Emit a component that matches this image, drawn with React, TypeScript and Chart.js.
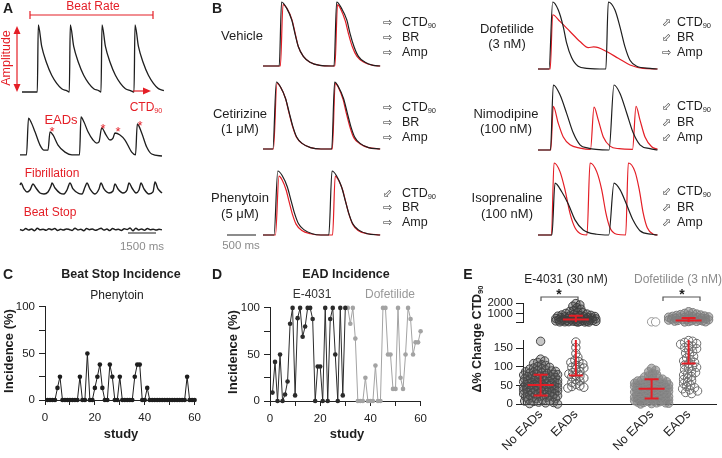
import React, { useEffect, useRef } from "react";
import { Chart, registerables } from "chart.js";
Chart.register(...registerables);

const FONT = "'Liberation Sans', Arial, Helvetica, sans-serif";
const RED = "#e41e26";
const INK = "#1e1e1e";
const GRAY = "#8c8c8c";
Chart.defaults.font.family = FONT;

// ---------- Panel A traces (time ms, normalised amplitude %) ----------
const aRegT = [0, 851, 906, 1096, 1374, 1651, 1930, 2208, 2486, 2630, 2685, 2875, 3153, 3430, 3709, 3987, 4265, 4393, 4448, 4638, 4916, 5193, 5472, 5750, 6028, 6228, 6283, 6473, 6751, 7028, 7307, 7585, 7890];
const aRegV = [0, 0, 100, 68, 43, 25, 13, 5, 2, 0, 100, 68, 43, 25, 13, 5, 2, 0, 100, 68, 43, 25, 13, 5, 2, 0, 100, 68, 43, 25, 13, 5, 2];
const aEadT = [0, 361, 473, 612, 834, 1112, 1334, 1557, 1668, 1835, 2113, 2502, 2891, 3308, 3392, 3558, 3781, 4059, 4265, 4392, 4542, 4782, 5004, 5171, 5282, 5560, 5838, 6210, 6422, 6522, 6766, 7044, 7322, 7895];
const aEadV = [3, 3, 97, 87, 62, 28, 15, 15, 62, 54, 28, 10, 3, 3, 100, 87, 62, 41, 33, 36, 72, 54, 41, 46, 59, 54, 41, 10, 3, 82, 59, 23, 5, 0];
const aFibT = [0, 56, 222, 389, 556, 723, 890, 1112, 1334, 1557, 1724, 1779, 1946, 2224, 2446, 2613, 2780, 2947, 3225, 3447, 3614, 3725, 3892, 4170, 4392, 4504, 4670, 4948, 5171, 5282, 5449, 5727, 5949, 6060, 6227, 6450, 6616, 6728, 6894, 7172, 7395, 7506, 7673, 7895];
const aFibV = [75, 92, 42, 17, 33, 83, 50, 8, 0, 17, 67, 92, 50, 8, 0, 33, 92, 42, 8, 0, 58, 92, 42, 0, 42, 92, 42, 8, 25, 83, 42, 8, 33, 92, 50, 8, 33, 92, 42, 0, 17, 100, 42, 8];
const aStopStepMs = 161;
const aStopV = [50, 20, 80, 35, 65, 10, 90, 40, 55, 25, 75, 45, 85, 15, 60, 30, 70, 50, 20, 95, 35, 60, 10, 80, 45, 70, 25, 55, 90, 30, 65, 15, 85, 40, 60, 20, 75, 50, 100, 5, 90, 35, 70, 25, 80, 45, 60, 30, 55, 40];

// ---------- Panel B traces (ms, %) ----------
const vehBlkT = [0, 280, 320, 410, 495, 550, 610, 695, 810, 980, 1180, 1225, 1270, 1355, 1445, 1500, 1570, 1645, 1760, 1900, 2020];
const vehBlkV = [0, 0, 100, 90, 72, 51, 30, 15, 6, 1, 0, 0, 100, 90, 72, 51, 30, 15, 6, 1, 0];
const vehRedT = [0, 300, 345, 420, 500, 555, 610, 695, 810, 980, 1180, 1240, 1285, 1345, 1420, 1475, 1540, 1620, 1740, 1900, 2020];
const vehRedV = [0, 0, 96, 89, 72, 51, 30, 15, 6, 1, 0, 0, 96, 88, 70, 50, 30, 15, 6, 1, 0];
const cetBlkT = [0, 170, 230, 300, 390, 450, 510, 580, 680, 820, 1000, 1185, 1235, 1300, 1390, 1450, 1510, 1580, 1680, 1820, 2020];
const cetBlkV = [0, 0, 100, 93, 75, 55, 35, 18, 8, 2, 0, 0, 100, 93, 75, 55, 35, 18, 8, 2, 0];
const cetRedT = [0, 180, 240, 305, 390, 445, 505, 575, 680, 820, 1000, 1195, 1245, 1300, 1380, 1435, 1495, 1565, 1670, 1820, 2020];
const cetRedV = [0, 0, 98, 92, 75, 55, 35, 18, 8, 2, 0, 0, 98, 92, 74, 54, 34, 17, 8, 2, 0];
const phnBlkT = [0, 190, 255, 330, 420, 480, 540, 610, 710, 850, 1000, 1135, 1190, 1265, 1355, 1415, 1475, 1545, 1645, 1800, 2020];
const phnBlkV = [0, 0, 100, 93, 75, 55, 35, 18, 8, 2, 0, 0, 100, 93, 75, 55, 35, 18, 8, 2, 0];
const phnRedT = [0, 215, 275, 330, 400, 450, 505, 570, 670, 820, 1000, 1200, 1245, 1300, 1375, 1425, 1480, 1545, 1640, 1800, 2020];
const phnRedV = [0, 0, 92, 86, 70, 52, 33, 17, 7, 2, 0, 0, 92, 86, 70, 52, 33, 17, 7, 2, 0];
const dofBlkT = [0, 190, 253, 350, 436, 493, 579, 693, 838, 1170, 1212, 1327, 1413, 1500, 1586, 1702, 1931, 2060];
const dofBlkV = [0, 0, 100, 88, 63, 39, 17, 4, 1, 0, 100, 88, 63, 33, 13, 4, 1, 0];
const dofRedT = [0, 210, 253, 379, 552, 724, 867, 960, 1040, 1184, 1384, 1586, 1810, 2060];
const dofRedV = [0, 0, 81, 71, 56, 41, 32, 33, 32, 26, 16, 6, 1, 0];
const nimBlkT = [0, 215, 264, 379, 495, 609, 724, 867, 1000, 1225, 1310, 1414, 1529, 1643, 1758, 1931, 2060];
const nimBlkV = [0, 0, 100, 85, 56, 26, 8, 3, 1, 0, 100, 87, 57, 26, 8, 2, 0];
const nimRedT = [0, 220, 264, 350, 436, 552, 724, 905, 966, 1040, 1126, 1241, 1400, 1630, 1690, 1759, 1845, 1960, 2060];
const nimRedV = [0, 0, 67, 41, 20, 8, 3, 1, 66, 46, 20, 6, 2, 1, 67, 46, 20, 5, 1];
const isoRedT = [0, 232, 276, 379, 465, 552, 638, 753, 845, 897, 1012, 1098, 1172, 1241, 1357, 1512, 1557, 1672, 1746, 1815, 1884, 1988, 2060];
const isoRedV = [0, 0, 100, 88, 63, 30, 10, 1, 0, 100, 88, 63, 30, 10, 1, 0, 100, 88, 63, 30, 10, 1, 0];
const isoBlkT = [0, 240, 293, 409, 522, 638, 781, 1012, 1220, 1310, 1414, 1529, 1643, 1758, 1960, 2060];
const isoBlkV = [0, 0, 72, 60, 43, 21, 7, 1, 0, 72, 63, 42, 20, 6, 1, 0];

// ---------- Panel C: beat stop incidence, phenytoin (studies 1..60) ----------
const cPhenytoin = [0, 0, 0, 0, 13, 25, 0, 0, 0, 0, 0, 0, 0, 25, 0, 0, 50, 0, 0, 13, 25, 38, 13, 0, 0, 38, 25, 0, 0, 25, 0, 0, 0, 0, 0, 25, 38, 38, 0, 0, 13, 0, 0, 0, 0, 0, 0, 0, 0, 0, 0, 0, 0, 0, 0, 0, 25, 0, 0, 0];

// ---------- Panel D: EAD incidence ----------
const dE4031Start = 1;
const dE4031 = [9, 42, 0, 50, 0, 7, 21, 83, 100, 6, 89, 100, 69, 80, 100, 100, 88, 0, 37, 37, 0, 100, 0, 88, 100, 50, 0, 100, 6, 100];
const dDofStart = 31;
const dDofetilide = [100, 83, 100, 67, 0, 0, 0, 25, 0, 0, 0, 38, 0, 0, 100, 100, 50, 50, 13, 13, 100, 25, 13, 50, 100, 88, 50, 63, 63, 75, 0];

// ---------- Panel E: delta % change CTD90 ----------
const eLabels = ["No EADs", "EADs", "No EADs", "EADs"];
const ePos = [1, 2, 4.15, 5.2];
const eMeans = [51, 440, 41, 345];
const eSds = [28, 363, 26, 236];
const eE4031NoLow = [169, 121, 116, 112, 109, 106, 104, 101, 99, 97, 95, 94, 92, 90, 89, 88, 87, 86, 84, 83, 82, 81, 80, 79, 78, 77, 76, 75, 74, 73, 72, 71, 70, 69, 68, 67, 66, 65, 64, 63, 63, 62, 61, 60, 59, 58, 58, 57, 56, 55, 55, 54, 53, 52, 52, 51, 50, 49, 48, 48, 47, 46, 45, 44, 44, 43, 42, 41, 41, 40, 39, 38, 38, 37, 36, 35, 34, 33, 32, 31, 30, 29, 28, 27, 26, 25, 24, 23, 22, 21, 20, 19, 18, 17, 15, 14, 13, 11, 9, 8, 7, 5, 4, 3, 1, 0];
const eE4031EadLow = [167, 152, 136, 126, 118, 114, 112, 108, 104, 100, 99, 97, 93, 88, 85, 81, 77, 75, 73, 70, 65, 62, 58, 53, 49, 47, 45, 43];
const eE4031EadHigh = [1950, 1820, 1700, 1560, 1420, 1300, 1210, 1140, 1080, 1020, 960, 910, 870, 840, 810, 780, 760, 730, 710, 690, 660, 640, 620, 600, 585, 560, 540, 520, 505, 490, 470, 450, 430, 415, 400, 385, 370, 355, 340, 325, 310, 295, 280, 270, 260, 250, 240, 230, 222, 215, 208, 202];
const eDofNoLow = [96, 91, 87, 83, 79, 76, 73, 71, 69, 67, 65, 64, 62, 61, 60, 59, 58, 57, 56, 55, 54, 53, 52, 52, 51, 50, 49, 48, 47, 47, 46, 45, 44, 43, 43, 42, 41, 40, 39, 38, 38, 37, 36, 35, 34, 34, 33, 32, 31, 30, 30, 29, 28, 27, 27, 26, 25, 24, 23, 22, 21, 21, 20, 19, 18, 18, 17, 16, 15, 14, 13, 12, 12, 11, 10, 9, 9, 8, 7, 6, 5, 4, 3, 3, 2, 1, 0];
const eDofNoHigh = [228, 215];
const eDofEadLow = [171, 169, 166, 163, 161, 158, 156, 152, 149, 145, 141, 137, 133, 128, 124, 119, 116, 112, 108, 105, 102, 99, 96, 92, 88, 85, 81, 78, 74, 70, 66, 63, 59, 55, 51, 47, 44, 41, 38, 35, 31, 28];
const eDofEadHigh = [1180, 1090, 1020, 960, 910, 870, 830, 800, 770, 740, 710, 690, 660, 640, 610, 590, 570, 550, 530, 510, 490, 470, 450, 430, 410, 390, 370, 350, 330, 310, 290, 270, 250, 230, 215];

// ---------- helpers ----------
type Series = { t: number[]; v: number[]; color: string; w?: number };

function ChartBox(props: { left: number; top: number; width: number; height: number; make: () => any; after?: (c: any) => void }) {
  const { left, top, width, height, make, after } = props;
  const ref = useRef<HTMLCanvasElement>(null);
  useEffect(() => {
    const chart = new Chart(ref.current as HTMLCanvasElement, make());
    if (after) after(chart);
    return () => chart.destroy();
  }, []);
  return <canvas ref={ref} width={width} height={height} style={{ position: "absolute", left, top, width, height }} />;
}

function traceConfig(series: Series[], tMax: number, pad: number) {
  return {
    type: "line",
    data: {
      datasets: series.map((s) => ({
        data: s.t.map((t, i) => ({ x: t, y: s.v[i] })),
        borderColor: s.color,
        borderWidth: s.w ?? 1.2,
        pointRadius: 0,
        cubicInterpolationMode: "monotone",
        fill: false,
        clip: false,
      })),
    },
    options: {
      animation: false,
      responsive: false,
      events: [],
      layout: { padding: pad },
      plugins: { legend: { display: false }, tooltip: { enabled: false } },
      scales: {
        x: { type: "linear", display: false, min: 0, max: tMax },
        y: { type: "linear", display: false, min: 0, max: 100 },
      },
    },
  };
}

function Trace(p: { left: number; top: number; width: number; height: number; tMax: number; series: Series[] }) {
  const pad = 3;
  return <ChartBox left={p.left - pad} top={p.top - pad} width={p.width + 2 * pad} height={p.height + 2 * pad} make={() => traceConfig(p.series, p.tMax, pad)} />;
}

function Txt(p: { x: number; y: number; children: any; size?: number; color?: string; bold?: boolean; anchor?: "start" | "middle" | "end"; rotate?: number; family?: string }) {
  const tx = p.anchor === "start" ? "0" : p.anchor === "end" ? "-100%" : "-50%";
  return (
    <div
      style={{
        position: "absolute",
        left: p.x,
        top: p.y,
        transform: `translate(${tx}, -50%)` + (p.rotate ? ` rotate(${p.rotate}deg)` : ""),
        fontFamily: p.family ?? FONT,
        fontSize: p.size ?? 12,
        fontWeight: p.bold ? "bold" : "normal",
        color: p.color ?? INK,
        whiteSpace: "nowrap",
        lineHeight: 1,
      }}
    >
      {p.children}
    </div>
  );
}

const Ctd = () => (
  <>
    CTD<span style={{ fontSize: "0.6em", position: "relative", top: "0.3em" }}>90</span>
  </>
);

const GLYPH: Record<string, string> = { r: "\u21E8", u: "\u2B00", d: "\u2B03" };

function ArrowRows(p: { gx: number; tx: number; ys: number[]; dirs: string[] }) {
  const labels = [<Ctd />, "BR", "Amp"];
  return (
    <>
      {p.ys.map((y, i) => (
        <React.Fragment key={i}>
          <Txt x={p.gx} y={y} anchor="start" size={11} color="#333" family="'DejaVu Sans', sans-serif">
            {GLYPH[p.dirs[i]]}
          </Txt>
          <Txt x={p.tx} y={y} anchor="start" size={12.5}>
            {labels[i]}
          </Txt>
        </React.Fragment>
      ))}
    </>
  );
}

function incidenceConfig(datasets: any[]) {
  const tickFont = { family: FONT, size: 11.5 };
  return {
    type: "line",
    data: { datasets },
    options: {
      animation: false,
      responsive: false,
      events: [],
      layout: { padding: { top: 10, right: 10, left: 0, bottom: 0 } },
      plugins: { legend: { display: false }, tooltip: { enabled: false } },
      scales: {
        x: {
          type: "linear",
          min: 0,
          max: 60,
          afterFit: (s: any) => { s.height = 26; },
          ticks: { stepSize: 10, callback: (v: number) => (v % 20 === 0 ? String(v) : ""), font: tickFont, color: "#222", padding: 6, maxRotation: 0, autoSkip: false },
          grid: { drawOnChartArea: false, tickLength: 5, color: "#222" },
          border: { color: "#222", width: 1 },
        },
        y: {
          type: "linear",
          min: 0,
          max: 100,
          afterFit: (s: any) => { s.width = 45; },
          ticks: { stepSize: 25, callback: (v: number) => (v % 50 === 0 ? String(v) : ""), font: tickFont, color: "#222", padding: 4 },
          grid: { drawOnChartArea: false, tickLength: 6, color: "#222" },
          border: { color: "#222", width: 1 },
        },
      },
    },
  };
}

function lineSeries(values: number[], start: number, color: string) {
  return {
    data: values.map((v, i) => ({ x: start + i, y: v })),
    borderColor: color,
    backgroundColor: color,
    borderWidth: 1,
    pointRadius: 2.3,
    pointBorderWidth: 0,
    pointBackgroundColor: color,
    tension: 0,
    clip: false,
  };
}

const meanSdPlugin = {
  id: "meanSd",
  afterDatasetsDraw(chart: any) {
    const { ctx, chartArea: a, scales } = chart;
    const x = scales.x, y = scales.y;
    ctx.save();
    ctx.beginPath();
    ctx.rect(a.left - 40, a.top - 1, a.right - a.left + 80, a.bottom - a.top + 1);
    ctx.clip();
    ctx.strokeStyle = RED;
    ctx.lineWidth = 2;
    const seg = (x1: number, y1: number, x2: number, y2: number) => {
      ctx.beginPath();
      ctx.moveTo(x1, y1);
      ctx.lineTo(x2, y2);
      ctx.stroke();
    };
    const inside = (py: number) => py >= a.top - 1 && py <= a.bottom;
    ePos.forEach((p, i) => {
      const cx = x.getPixelForValue(p);
      const m = y.getPixelForValue(eMeans[i]);
      const lo = y.getPixelForValue(eMeans[i] - eSds[i]);
      const hi = y.getPixelForValue(eMeans[i] + eSds[i]);
      if (Math.min(lo, hi) <= a.bottom && Math.max(lo, hi) >= a.top) seg(cx, lo, cx, hi);
      if (inside(m)) seg(cx - 13, m, cx + 13, m);
      if (inside(lo)) seg(cx - 7, lo, cx + 7, lo);
      if (inside(hi)) seg(cx - 7, hi, cx + 7, hi);
    });
    ctx.restore();
  },
};

const eStylesLow = [
  { border: "#454545", fill: "rgba(95,95,95,0.35)" },
  { border: "#5a5a5a", fill: "rgba(255,255,255,0)" },
  { border: "#8a8a8a", fill: "rgba(128,128,128,0.55)" },
  { border: "#6e6e6e", fill: "rgba(255,255,255,0)" },
];
const eStylesHigh = [
  { border: "#454545", fill: "rgba(95,95,95,0.35)" },
  { border: "#3c3c3c", fill: "rgba(70,70,70,0.35)" },
  { border: "#9a9a9a", fill: "rgba(255,255,255,1)" },
  { border: "#7c7c7c", fill: "rgba(128,128,128,0.5)" },
];

function eConfig(low: boolean) {
  const groups = low ? [eE4031NoLow, eE4031EadLow, eDofNoLow, eDofEadLow] : [[], eE4031EadHigh, eDofNoHigh, eDofEadHigh];
  const styles = low ? eStylesLow : eStylesHigh;
  const tickFont = { family: FONT, size: 11.5 };
  const xScale: any = {
    type: "linear",
    min: 0.5,
    max: 6,
    display: low,
    afterBuildTicks: (s: any) => { s.ticks = ePos.map((v) => ({ value: v })); },
    ticks: { callback: (_v: number, i: number) => eLabels[i], minRotation: 45, maxRotation: 45, autoSkip: false, padding: 3, font: { family: FONT, size: 12.5 }, color: "#222" },
    grid: { drawOnChartArea: false, drawTicks: false, color: "#222" },
    border: { display: true, color: "#222", width: 1 },
  };
  if (low) xScale.afterFit = (s: any) => { s.height = 54; };
  return {
    type: "scatter",
    data: {
      datasets: groups.map((vals, i) => ({
        data: vals.map((v) => ({ x: ePos[i], y: v })),
        pointRadius: 4.2,
        pointBorderWidth: 1,
        pointBorderColor: styles[i].border,
        pointBackgroundColor: styles[i].fill,
        showLine: false,
        clip: false,
      })),
    },
    plugins: [meanSdPlugin],
    options: {
      animation: false,
      responsive: false,
      events: [],
      layout: { padding: low ? { top: 7, right: 0, left: 0, bottom: 0 } : { top: 20, right: 0, left: 0, bottom: 8 } },
      plugins: { legend: { display: false }, tooltip: { enabled: false } },
      scales: {
        x: xScale,
        y: {
          type: "linear",
          min: low ? 0 : 200,
          max: low ? 170 : 2000,
          afterBuildTicks: (s: any) => { s.ticks = (low ? [0, 50, 100, 150] : [200, 1000, 2000]).map((v) => ({ value: v })); },
          afterFit: (s: any) => { s.width = 43; },
          ticks: { callback: (v: number) => (!low && v === 200 ? "" : String(v)), padding: 3, font: tickFont, color: "#222", autoSkip: false },
          grid: { drawOnChartArea: false, tickLength: 7, color: "#222" },
          border: { color: "#222", width: 1 },
        },
      },
    },
  };
}

function swarm(dMin: number, maxW: number) {
  return (chart: any) => {
    const xs = chart.scales.x, ys = chart.scales.y;
    const unit = xs.getPixelForValue(1) - xs.getPixelForValue(0);
    chart.data.datasets.forEach((ds: any) => {
      const placed: [number, number][] = [];
      ds.data.forEach((pt: any) => {
        const base = pt.x;
        const py = ys.getPixelForValue(pt.y);
        let bestDx = 0, bestD = -1;
        for (let k = 0; k <= maxW * 2; k++) {
          const dx = k === 0 ? 0 : (k % 2 ? 1 : -1) * Math.ceil(k / 2);
          let dmin = Infinity;
          for (const [qx, qy] of placed) {
            const dd = Math.hypot(dx - qx, py - qy);
            if (dd < dmin) dmin = dd;
          }
          if (dmin >= dMin) { bestDx = dx; break; }
          if (dmin > bestD) { bestD = dmin; bestDx = dx; }
        }
        placed.push([bestDx, py]);
        pt.x = base + bestDx / unit;
      });
    });
    chart.update("none");
  };
}

export default function App() {
  const A_T = 7895;
  const B_T = 2069;
  return (
    <div style={{ position: "fixed", left: 0, top: 0, width: 722, height: 458, background: "#fff", overflow: "hidden" }}>
      {/* ----- Panel A ----- */}
      <Trace left={22} top={25} width={142} height={67} tMax={A_T} series={[{ t: aRegT, v: aRegV, color: INK, w: 1.3 }]} />
      <Trace left={20} top={117} width={142} height={39} tMax={A_T} series={[{ t: aEadT, v: aEadV, color: INK, w: 1.3 }]} />
      <Trace left={20} top={182} width={142} height={12} tMax={A_T} series={[{ t: aFibT, v: aFibV, color: INK, w: 1.4 }]} />
      <Trace left={20} top={228} width={142} height={3} tMax={A_T} series={[{ t: aStopV.map((_, i) => i * aStopStepMs), v: aStopV, color: INK, w: 1.5 }]} />

      {/* ----- Panel B ----- */}
      <Trace left={263} top={2} width={120} height={64} tMax={B_T} series={[{ t: vehBlkT, v: vehBlkV, color: INK }, { t: vehRedT, v: vehRedV, color: RED }]} />
      <Trace left={263} top={82} width={120} height={67} tMax={B_T} series={[{ t: cetBlkT, v: cetBlkV, color: INK }, { t: cetRedT, v: cetRedV, color: RED }]} />
      <Trace left={263} top={171} width={120} height={64} tMax={B_T} series={[{ t: phnBlkT, v: phnBlkV, color: INK }, { t: phnRedT, v: phnRedV, color: RED }]} />
      <Trace left={538} top={2} width={120} height={67} tMax={B_T} series={[{ t: dofBlkT, v: dofBlkV, color: INK }, { t: dofRedT, v: dofRedV, color: RED }]} />
      <Trace left={538} top={85} width={120} height={65} tMax={B_T} series={[{ t: nimBlkT, v: nimBlkV, color: INK }, { t: nimRedT, v: nimRedV, color: RED }]} />
      <Trace left={538} top={163} width={120} height={72} tMax={B_T} series={[{ t: isoBlkT, v: isoBlkV, color: INK }, { t: isoRedT, v: isoRedV, color: RED }]} />

      {/* ----- Panel C ----- */}
      <ChartBox left={0} top={296} width={207} height={130} make={() => incidenceConfig([lineSeries(cPhenytoin, 1, "#1e1e1e")])} />
      {/* ----- Panel D ----- */}
      <ChartBox left={225} top={297} width={208} height={130} make={() => incidenceConfig([lineSeries(dE4031, dE4031Start, "#2b2b2b"), lineSeries(dDofetilide, dDofStart, "#a3a3a3")])} />
      {/* ----- Panel E ----- */}
      <ChartBox left={480} top={283} width={242} height={49} make={() => eConfig(false)} after={swarm(4, 20)} />
      <ChartBox left={480} top={331} width={242} height={127} make={() => eConfig(true)} after={swarm(4, 17)} />

      {/* ----- decorations ----- */}
      <svg width={722} height={458} style={{ position: "absolute", left: 0, top: 0, pointerEvents: "none" }}>
        <g stroke={RED} strokeWidth={1.2} fill="none">
          <path d="M30,11 V19 M30,15 H153 M153,11 V19" />
          <path d="M17,32 V86" />
          <path d="M133,91 H144" />
        </g>
        <g fill={RED}>
          <path d="M17,26 L13.5,34 L20.5,34 Z" />
          <path d="M17,92 L13.5,84 L20.5,84 Z" />
          <path d="M151,91 L143,87.5 L143,94.5 Z" />
        </g>
        <path d="M128,233 H156" stroke={GRAY} strokeWidth={2} />
        <path d="M227,235 H256" stroke={GRAY} strokeWidth={2} />
        <g stroke="#555" strokeWidth={1.2} fill="none">
          <path d="M541,301 V297 H578 V301" />
          <path d="M663,301 V297 H700 V301" />
        </g>
      </svg>

      {/* ----- texts A ----- */}
      <Txt x={8} y={8} size={14} bold>A</Txt>
      <Txt x={93} y={6} color={RED}>Beat Rate</Txt>
      <Txt x={6} y={58} color={RED} size={12.5} rotate={-90}>Amplitude</Txt>
      <Txt x={146} y={107} color={RED}><Ctd /></Txt>
      <Txt x={61} y={119} color={RED} size={13}>EADs</Txt>
      <Txt x={52} y={131} color={RED} size={13}>*</Txt>
      <Txt x={103} y={128} color={RED} size={13}>*</Txt>
      <Txt x={118} y={131} color={RED} size={13}>*</Txt>
      <Txt x={140} y={125} color={RED} size={13}>*</Txt>
      <Txt x={52} y={173} color={RED}>Fibrillation</Txt>
      <Txt x={50} y={212} color={RED}>Beat Stop</Txt>
      <Txt x={142} y={247} color={GRAY} size={11.5}>1500 ms</Txt>

      {/* ----- texts B ----- */}
      <Txt x={217} y={8} size={14} bold>B</Txt>
      <Txt x={242} y={35} size={13}>Vehicle</Txt>
      <Txt x={240} y={113} size={13}>Cetirizine</Txt>
      <Txt x={240} y={128} size={13}>(1 μM)</Txt>
      <Txt x={240} y={197} size={13}>Phenytoin</Txt>
      <Txt x={240} y={213} size={13}>(5 μM)</Txt>
      <Txt x={241} y={246} color={GRAY} size={11.5}>500 ms</Txt>
      <Txt x={507} y={28} size={13}>Dofetilide</Txt>
      <Txt x={507} y={43} size={13}>(3 nM)</Txt>
      <Txt x={506} y={113} size={13}>Nimodipine</Txt>
      <Txt x={506} y={128} size={13}>(100 nM)</Txt>
      <Txt x={507} y={197} size={13}>Isoprenaline</Txt>
      <Txt x={507} y={213} size={13}>(100 nM)</Txt>
      <ArrowRows gx={383} tx={402} ys={[22, 37, 52]} dirs={["r", "r", "r"]} />
      <ArrowRows gx={383} tx={402} ys={[107, 122, 137]} dirs={["r", "r", "r"]} />
      <ArrowRows gx={383} tx={402} ys={[193, 207, 222]} dirs={["d", "r", "r"]} />
      <ArrowRows gx={662} tx={677} ys={[22, 37, 52]} dirs={["u", "d", "r"]} />
      <ArrowRows gx={662} tx={677} ys={[106, 122, 137]} dirs={["d", "u", "d"]} />
      <ArrowRows gx={662} tx={677} ys={[191, 207, 222]} dirs={["d", "u", "u"]} />

      {/* ----- texts C ----- */}
      <Txt x={8} y={274} size={14} bold>C</Txt>
      <Txt x={121} y={274} size={12.5} bold>Beat Stop Incidence</Txt>
      <Txt x={117} y={295}>Phenytoin</Txt>
      <Txt x={8} y={351} size={13} bold rotate={-90}>Incidence (%)</Txt>
      <Txt x={121} y={433} size={13} bold>study</Txt>

      {/* ----- texts D ----- */}
      <Txt x={217} y={274} size={14} bold>D</Txt>
      <Txt x={346} y={274} size={12.5} bold>EAD Incidence</Txt>
      <Txt x={312} y={294} color="#333">E-4031</Txt>
      <Txt x={390} y={294} color="#999">Dofetilide</Txt>
      <Txt x={232} y={352} size={13} bold rotate={-90}>Incidence (%)</Txt>
      <Txt x={347} y={433} size={13} bold>study</Txt>

      {/* ----- texts E ----- */}
      <Txt x={468} y={274} size={14} bold>E</Txt>
      <Txt x={566} y={279}>E-4031 (30 nM)</Txt>
      <Txt x={678} y={279} color={GRAY}>Dofetilide (3 nM)</Txt>
      <Txt x={559} y={294} size={14} bold>*</Txt>
      <Txt x={682} y={294} size={14} bold>*</Txt>
      <Txt x={477} y={339} size={12.5} bold rotate={-90}>Δ% Change <Ctd /></Txt>
    </div>
  );
}
